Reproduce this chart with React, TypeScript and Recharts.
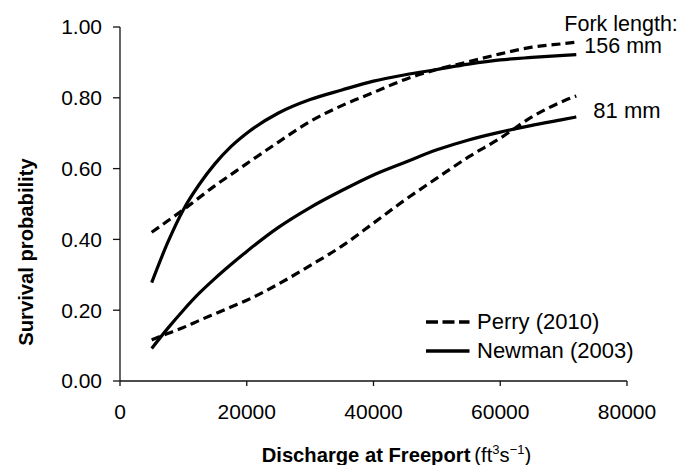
import React from 'react';
import { LineChart, Line, XAxis, YAxis, Legend, LabelList, Label } from 'recharts';

// Discharge at Freeport (ft3/s)
const discharge = [5000, 7500, 10000, 12500, 15000, 17500, 20000, 25000, 30000, 35000, 40000, 45000, 50000, 55000, 60000, 65000, 70000, 72000];
// Fork length 156 mm
const perry156 = [0.42, 0.452, 0.484, 0.518, 0.552, 0.583, 0.614, 0.675, 0.733, 0.778, 0.815, 0.852, 0.88, 0.902, 0.924, 0.943, 0.953, 0.957];
const newman156 = [0.278, 0.39, 0.484, 0.555, 0.614, 0.662, 0.7, 0.757, 0.795, 0.822, 0.847, 0.865, 0.88, 0.895, 0.907, 0.914, 0.92, 0.922];
// Fork length 81 mm
const perry81 = [0.116, 0.134, 0.151, 0.171, 0.19, 0.209, 0.228, 0.274, 0.326, 0.381, 0.446, 0.512, 0.573, 0.633, 0.686, 0.746, 0.791, 0.805];
const newman81 = [0.092, 0.148, 0.2, 0.248, 0.29, 0.329, 0.366, 0.434, 0.49, 0.538, 0.582, 0.618, 0.653, 0.681, 0.703, 0.722, 0.739, 0.746];

const xTicks = [0, 20000, 40000, 60000, 80000];
const yTicks = [0, 0.2, 0.4, 0.6, 0.8, 1.0];

const seriesNames = { perry: 'Perry (2010)', newman: 'Newman (2003)' };
const legendOrder = [seriesNames.perry, seriesNames.newman];
const forkLabels = { title: 'Fork length:', big: '156 mm', small: '81 mm' };

const rows = discharge.map((d, i) => ({
  discharge: d,
  perry156: perry156[i],
  newman156: newman156[i],
  perry81: perry81[i],
  newman81: newman81[i],
}));

const FONT = '"Liberation Sans", Arial, Helvetica, sans-serif';
const lastIdx = discharge.length - 1;
const PLOT_DASH = '9 5';

const dashFor: Record<string, string | undefined> = {
  [seriesNames.perry]: '12 4.5',
  [seriesNames.newman]: undefined,
};

const renderLegend = (props: any) => {
  const payload = (props.payload || []).filter((e: any) => legendOrder.includes(e.value));
  const unique: any[] = [];
  legendOrder.forEach((name) => {
    const found = payload.find((e: any) => e.value === name);
    if (found) unique.push(found);
  });
  return (
    <div style={{ fontFamily: FONT }}>
      {unique.map((entry: any) => (
        <div key={entry.value} style={{ display: 'flex', alignItems: 'center', height: 29.3 }}>
          <svg width={44} height={10} style={{ display: 'block' }}>
            <line x1={0} y1={5} x2={43.5} y2={5} stroke="#000" strokeWidth={3.4} strokeDasharray={dashFor[entry.value]} />
          </svg>
          <span style={{ marginLeft: 7, fontSize: 22, color: '#000', lineHeight: '24px', whiteSpace: 'nowrap' }}>{entry.value}</span>
        </div>
      ))}
    </div>
  );
};

const label156 = (props: any) => {
  const { x, y, index } = props;
  if (index !== lastIdx) return null;
  return (
    <g fontFamily={FONT} fontSize={21.5} fill="#000">
      <text x={x - 12} y={y - 24}>{forkLabels.title}</text>
      <text x={x + 8} y={y - 2}>{forkLabels.big}</text>
    </g>
  );
};

const label81 = (props: any) => {
  const { x, y, index } = props;
  if (index !== lastIdx) return null;
  return (
    <text x={x + 17} y={y + 1} fontFamily={FONT} fontSize={22} fill="#000">{forkLabels.small}</text>
  );
};

const yTitle = (props: any) => {
  const vb = props.viewBox || { x: 0, y: 0, width: 0, height: 0 };
  const cx = vb.x + 33;
  const cy = vb.y + vb.height / 2 + 48;
  return (
    <text
      x={cx}
      y={cy}
      transform={`rotate(-90, ${cx}, ${cy})`}
      textAnchor="middle"
      fontFamily={FONT}
      fontWeight="bold"
      fontSize={20.2}
      fill="#000"
    >
      Survival probability
    </text>
  );
};

const xTitle = (props: any) => {
  const vb = props.viewBox || { x: 0, y: 0, width: 0, height: 0 };
  const x0 = vb.x + 141.7;
  const y0 = vb.y + 80.5;
  return (
    <text x={x0} y={y0} fontFamily={FONT} fill="#000" fontSize={20.2}>
      <tspan fontWeight="bold">Discharge at Freeport</tspan>
      <tspan dx={4}>(ft</tspan>
      <tspan fontSize={13} dy={-8}>3</tspan>
      <tspan dy={8}>s</tspan>
      <tspan fontSize={13} dy={-8}>−1</tspan>
      <tspan dy={8}>)</tspan>
    </text>
  );
};

export default function App() {
  return (
    <div style={{ position: 'absolute', left: 0, top: 0, background: '#fff' }}>
      <LineChart width={683} height={465} data={rows} margin={{ top: 27, right: 56, bottom: 0, left: 0 }}>
        <XAxis
          dataKey="discharge"
          type="number"
          domain={[0, 80000]}
          ticks={xTicks}
          height={84}
          tickSize={5}
          tickMargin={18}
          axisLine={{ stroke: '#111', strokeWidth: 1.3 }}
          tickLine={{ stroke: '#111', strokeWidth: 1.3 }}
          tick={{ fill: '#000', fontSize: 21, fontFamily: FONT }}
          interval={0}
        >
          <Label content={xTitle} />
        </XAxis>
        <YAxis
          type="number"
          domain={[0, 1]}
          ticks={yTicks}
          width={120}
          tickSize={7}
          tickMargin={11}
          tickFormatter={(v: number) => v.toFixed(2)}
          axisLine={{ stroke: '#111', strokeWidth: 1.3 }}
          tickLine={{ stroke: '#111', strokeWidth: 1.3 }}
          tick={{ fill: '#000', fontSize: 21, fontFamily: FONT }}
          interval={0}
        >
          <Label content={yTitle} />
        </YAxis>
        <Legend
          layout="vertical"
          align="center"
          verticalAlign="middle"
          content={renderLegend}
          wrapperStyle={{ left: 426, top: 307, width: 240 }}
        />
        <Line
          name={seriesNames.perry}
          dataKey="perry156"
          type="monotone"
          stroke="#000"
          strokeWidth={3.2}
          strokeDasharray={PLOT_DASH}
          dot={false}
          activeDot={false}
          isAnimationActive={false}
        />
        <Line
          name={seriesNames.newman}
          dataKey="newman156"
          type="monotone"
          stroke="#000"
          strokeWidth={3.2}
          dot={false}
          activeDot={false}
          isAnimationActive={false}
        >
          <LabelList dataKey="newman156" content={label156} />
        </Line>
        <Line
          name="Perry 81"
          dataKey="perry81"
          type="monotone"
          stroke="#000"
          strokeWidth={3.2}
          strokeDasharray={PLOT_DASH}
          dot={false}
          activeDot={false}
          legendType="none"
          isAnimationActive={false}
        />
        <Line
          name="Newman 81"
          dataKey="newman81"
          type="monotone"
          stroke="#000"
          strokeWidth={3.2}
          dot={false}
          activeDot={false}
          legendType="none"
          isAnimationActive={false}
        >
          <LabelList dataKey="newman81" content={label81} />
        </Line>
      </LineChart>
    </div>
  );
}
